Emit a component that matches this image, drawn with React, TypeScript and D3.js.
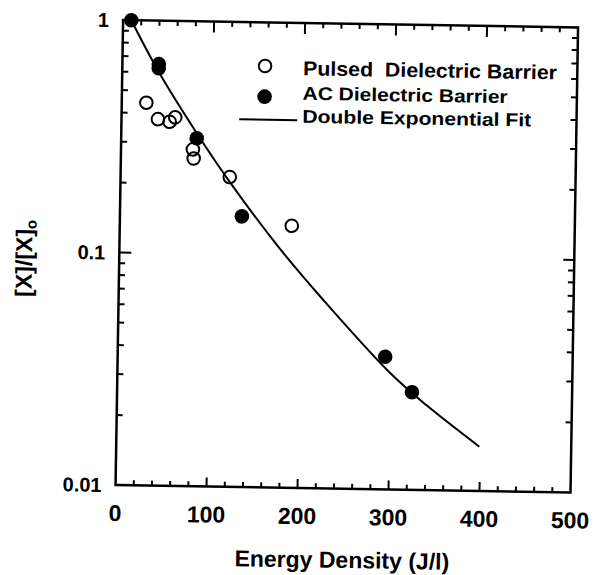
import React, { useEffect, useRef } from "react";
import * as d3 from "d3";

// values
const pulsedEnergy = [27, 40, 53, 59, 79, 80, 120, 189];
const pulsedRatio = [0.443, 0.377, 0.368, 0.385, 0.281, 0.257, 0.215, 0.134];
const acEnergy = [9, 40, 40, 83, 134, 294, 324];
const acRatio = [1.0, 0.65, 0.625, 0.314, 0.146, 0.0372, 0.0263];
const fitEnergy = [9, 40, 83, 120, 176, 225, 300, 340, 399];
const fitRatio = [1.0, 0.603, 0.33, 0.205, 0.107, 0.0646, 0.0316, 0.0232, 0.0155];
const xTicks = [0, 100, 200, 300, 400, 500];
const yTicks = [1, 0.1, 0.01];
const yTickLabels = ["1", "0.1", "0.01"];
const legendLabels = ["Pulsed  Dielectric Barrier", "AC Dielectric Barrier", "Double Exponential Fit"];

const W = 599, H = 575;
const frame = { left: 119.3, right: 574.3, top: 23.75, bottom: 488.75 };
const tilt = 0.93; // the scan is slightly rotated
const font = "'Liberation Sans', Arial, sans-serif";

export default function App() {
  const ref = useRef<SVGSVGElement>(null);

  useEffect(() => {
    const svg = d3.select(ref.current);
    svg.selectAll("*").remove();

    const cx = (frame.left + frame.right) / 2, cy = (frame.top + frame.bottom) / 2;
    const g = svg.append("g")
      .attr("transform", `rotate(${tilt}, ${cx}, ${cy})`)
      .style("font-family", font)
      .style("font-weight", "bold");

    const x = d3.scaleLinear().domain([0, 500]).range([frame.left, frame.right]);
    const y = d3.scaleLog().domain([0.01, 1]).range([frame.bottom, frame.top]);

    // frame
    g.append("rect")
      .attr("x", frame.left).attr("y", frame.top)
      .attr("width", frame.right - frame.left).attr("height", frame.bottom - frame.top)
      .attr("fill", "none").attr("stroke", "#000").attr("stroke-width", 2.5);

    // x ticks, bottom and top, pointing inward
    d3.range(20, 500, 20).forEach(v => {
      const major = v % 100 === 0;
      g.append("line")
        .attr("x1", x(v)).attr("x2", x(v))
        .attr("y1", frame.bottom).attr("y2", frame.bottom - (major ? 9 : 5))
        .attr("stroke", "#000").attr("stroke-width", 2);
      g.append("line")
        .attr("x1", x(v)).attr("x2", x(v))
        .attr("y1", frame.top).attr("y2", frame.top + (major ? 11 : 5))
        .attr("stroke", "#000").attr("stroke-width", 2);
    });

    // log ticks on left and right
    const logTicks: number[] = [];
    [0.01, 0.1].forEach(d => { for (let k = 1; k < 10; k++) logTicks.push(k * d); });
    logTicks.filter(v => v > 0.01).forEach(v => {
      const major = Math.abs(v - 0.1) < 1e-9;
      g.append("line")
        .attr("x1", frame.left).attr("x2", frame.left + (major ? 12 : 6))
        .attr("y1", y(v)).attr("y2", y(v))
        .attr("stroke", "#000").attr("stroke-width", 2);
      g.append("line")
        .attr("x1", frame.right).attr("x2", frame.right - (major ? 11 : 6))
        .attr("y1", y(v)).attr("y2", y(v))
        .attr("stroke", "#000").attr("stroke-width", 2);
    });

    // tick labels
    g.selectAll(".xlab").data(xTicks).enter().append("text")
      .attr("class", "xlab")
      .attr("x", d => x(d)).attr("y", frame.bottom + 36)
      .attr("text-anchor", "middle")
      .style("font-size", "23px")
      .text(d => d);

    g.selectAll(".ylab").data(yTicks).enter().append("text")
      .attr("class", "ylab")
      .attr("x", frame.left - 14).attr("y", d => y(d))
      .attr("dy", "0.36em")
      .attr("text-anchor", "end")
      .style("font-size", "20px")
      .text((d, i) => yTickLabels[i]);

    // axis titles
    g.append("text")
      .attr("x", cx).attr("y", 568)
      .attr("text-anchor", "middle")
      .style("font-size", "23px")
      .text("Energy Density (J/l)");

    const yt = g.append("text")
      .attr("transform", "translate(32,302) rotate(-90)")
      .style("font-size", "23px");
    yt.append("tspan").text("[X]/[X]");
    yt.append("tspan").attr("dy", 4).style("font-size", "15px").text("o");

    // fit curve
    const line = d3.line<number>()
      .x((d, i) => x(fitEnergy[i]))
      .y(d => y(d))
      .curve(d3.curveCatmullRom.alpha(0.5));
    g.append("path")
      .attr("d", line(fitRatio))
      .attr("fill", "none").attr("stroke", "#000").attr("stroke-width", 2);

    // points
    g.selectAll(".pulsed").data(pulsedRatio).enter().append("circle")
      .attr("class", "pulsed")
      .attr("cx", (d, i) => x(pulsedEnergy[i])).attr("cy", d => y(d))
      .attr("r", 6.3)
      .attr("fill", "none").attr("stroke", "#000").attr("stroke-width", 2);

    g.selectAll(".ac").data(acRatio).enter().append("circle")
      .attr("class", "ac")
      .attr("cx", (d, i) => x(acEnergy[i])).attr("cy", d => y(d))
      .attr("r", 7.3)
      .attr("fill", "#000");

    // legend
    g.append("circle").attr("cx", 262).attr("cy", 67.3).attr("r", 6.3)
      .attr("fill", "none").attr("stroke", "#000").attr("stroke-width", 2);
    g.append("circle").attr("cx", 262).attr("cy", 98).attr("r", 7.3).attr("fill", "#000");
    g.append("line").attr("x1", 237).attr("x2", 295).attr("y1", 121).attr("y2", 121)
      .attr("stroke", "#000").attr("stroke-width", 2);

    const baselines = [76, 100.5, 123.5];
    const sizes = [20, 18.5, 18.5];
    const widths = [254, 205, 229];
    legendLabels.forEach((t, i) => {
      g.append("text")
        .attr("x", 300).attr("y", baselines[i])
        .attr("textLength", widths[i])
        .attr("lengthAdjust", "spacingAndGlyphs")
        .style("font-size", `${sizes[i]}px`)
        .style("white-space", "pre")
        .text(t);
    });
  }, []);

  return (
    <svg
      ref={ref}
      width={W}
      height={H}
      style={{ position: "absolute", left: 0, top: 0, background: "#fff" }}
    />
  );
}
